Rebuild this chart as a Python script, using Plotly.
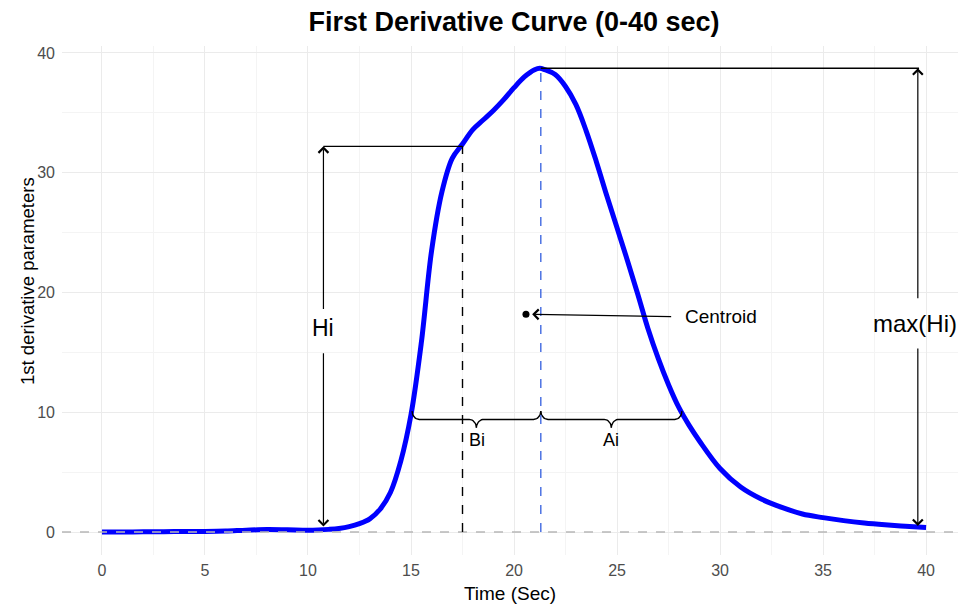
import numpy as np
import plotly.graph_objects as go

# ---- data ----
time_sec = [0, 1, 2, 3, 4, 5, 6, 7, 8, 9, 10, 10.5, 11, 11.5, 12, 12.5, 13, 13.5, 14, 14.5,
            15, 15.5, 16, 16.5, 17, 17.5, 18, 18.5, 19, 19.5, 20, 20.5, 21, 21.25, 21.5, 22,
            22.5, 23, 23.5, 24, 24.5, 25, 25.5, 26, 26.5, 27, 27.5, 28, 28.5, 29, 30, 31, 32,
            33, 34, 35, 36, 37, 38, 39, 40]
deriv = [0.0, 0.0, 0.02, 0.03, 0.04, 0.05, 0.08, 0.15, 0.2, 0.18, 0.15, 0.17, 0.22, 0.3, 0.45,
         0.7, 1.1, 1.9, 3.3, 5.9, 9.8, 15.8, 23.5, 28.4, 31.2, 32.4, 33.6, 34.4, 35.2, 36.1,
         37.1, 38.0, 38.6, 38.72, 38.6, 38.2, 37.2, 35.7, 33.5, 30.9, 28.1, 25.4, 22.7, 19.9,
         17.0, 14.5, 12.3, 10.4, 8.9, 7.6, 5.3, 3.75, 2.75, 2.05, 1.5, 1.2, 0.95, 0.75, 0.6,
         0.48, 0.38]

hi_x = 10.75          # position of Hi arrow
hi_time = 17.5        # time of Hi point
hi_value = 32.2
peak_time = 21.3
peak_value = 38.72
maxhi_x = 39.6
start_time = 15.05    # brace start (curve crosses ~10)
end_time = 28.15      # brace end
brace_y = 9.4
centroid_x = 20.58
centroid_y = 18.18
centroid_label_x = 27.7
centroid_label_y = 17.98

FONT = "Liberation Sans, Arial, sans-serif"

fig = go.Figure()

# curve
fig.add_trace(go.Scatter(x=time_sec, y=deriv, mode="lines",
                         line=dict(color="#0000ff", width=5, shape="spline", smoothing=1.0),
                         hoverinfo="skip", showlegend=False))

# braces
def brace(x0, x1, y, h=0.7, rx=0.35, n=12):
    mid = (x0 + x1) / 2
    xs, ys = [], []
    def arc(cx, cy, a0, a1):
        for t in np.linspace(a0, a1, n):
            xs.append(cx + rx * np.cos(t))
            ys.append(cy + h * np.sin(t))
    arc(x0 + rx, y + h, np.pi, 1.5 * np.pi)
    arc(mid - rx, y - h, 0.5 * np.pi, 0.0)
    arc(mid + rx, y - h, np.pi, 0.5 * np.pi)
    arc(x1 - rx, y + h, 1.5 * np.pi, 2 * np.pi)
    return xs, ys

for a, b in [(start_time, peak_time), (peak_time, end_time)]:
    bx, by = brace(a, b, brace_y)
    fig.add_trace(go.Scatter(x=bx, y=by, mode="lines", line=dict(color="black", width=1.4),
                             hoverinfo="skip", showlegend=False))

# centroid dot
fig.add_trace(go.Scatter(x=[centroid_x], y=[centroid_y], mode="markers",
                         marker=dict(color="black", size=7), hoverinfo="skip", showlegend=False))

# reference lines
fig.add_shape(type="line", xref="paper", x0=0, x1=1, y0=0, y1=0,
              line=dict(color="#b8b8b8", width=1.3, dash="dash"), layer="above")
fig.add_shape(type="line", x0=hi_time, x1=hi_time, y0=0, y1=hi_value,
              line=dict(color="black", width=1.4, dash="dash"))
fig.add_shape(type="line", x0=peak_time, x1=peak_time, y0=0, y1=peak_value,
              line=dict(color="#4169e1", width=1.4, dash="dash"))
fig.add_shape(type="line", x0=hi_x, x1=hi_time, y0=hi_value, y1=hi_value,
              line=dict(color="black", width=1.4))
fig.add_shape(type="line", x0=peak_time, x1=maxhi_x + 0.06, y0=peak_value, y1=peak_value,
              line=dict(color="black", width=1.4))

def arrow(x, y, ax, ay):
    fig.add_annotation(x=x, y=y, ax=ax, ay=ay, xref="x", yref="y", axref="x", ayref="y",
                       text="", showarrow=True, arrowhead=4, arrowsize=1.6, arrowwidth=1.2,
                       arrowcolor="black", standoff=0, startstandoff=0)

arrow(hi_x, hi_value, hi_x, 18.5)
arrow(hi_x, 0.45, hi_x, 15.05)
arrow(maxhi_x, peak_value, maxhi_x, 19.4)
arrow(maxhi_x, 0.5, maxhi_x, 15.45)
arrow(centroid_x + 0.3, centroid_y, centroid_label_x, centroid_label_y)

def label(x, y, t, size, xanchor="center"):
    fig.add_annotation(x=x, y=y, xref="x", yref="y", text=t, showarrow=False,
                       xanchor=xanchor, yanchor="middle",
                       font=dict(family=FONT, size=size, color="black"))

label(hi_x, 17.0, "Hi", 23)
label(39.45, 17.4, "max(Hi)", 24)
label(28.2, 18.0, "Centroid", 19, xanchor="left")
label(18.2, 7.7, "Bi", 18)
label(24.69, 7.7, "Ai", 18)

# y-axis title as rotated annotation
fig.add_annotation(x=(27 - 62) / 896, y=(555 - 281) / 509, xref="paper", yref="paper",
                   text="1st derivative parameters", textangle=-90, showarrow=False,
                   xanchor="center", yanchor="middle",
                   font=dict(family=FONT, size=18.5, color="black"))

fig.update_layout(
    width=958, height=606,
    margin=dict(l=62, r=0, t=46, b=51),
    paper_bgcolor="white", plot_bgcolor="white",
    font=dict(family=FONT, color="black"),
    title=dict(text="<b>First Derivative Curve (0-40 sec)</b>", x=514 / 958, xref="container",
               xanchor="center", y=1 - 22 / 606, yref="container", yanchor="middle",
               font=dict(family=FONT, size=27, color="black")),
    showlegend=False,
)
fig.update_xaxes(range=[-1.94, 41.55], tickvals=[0, 5, 10, 15, 20, 25, 30, 35, 40],
                 showgrid=True, gridcolor="#ebebeb", gridwidth=1.1, zeroline=False,
                 showline=False, ticks="", tickfont=dict(size=16, color="#4d4d4d"),
                 minor=dict(dtick=2.5, showgrid=True, gridcolor="#f4f4f4", gridwidth=0.6),
                 title=dict(text="Time (Sec)", font=dict(size=19, color="black"), standoff=8),
                 automargin=False, ticklabelstandoff=4)
fig.update_yaxes(range=[-1.92, 40.58], tickvals=[0, 10, 20, 30, 40],
                 showgrid=True, gridcolor="#ebebeb", gridwidth=1.1, zeroline=False,
                 showline=False, ticks="", tickfont=dict(size=16, color="#4d4d4d"),
                 minor=dict(dtick=5, showgrid=True, gridcolor="#f4f4f4", gridwidth=0.6),
                 automargin=False, ticklabelstandoff=6)

fig.write_html("out.html")
